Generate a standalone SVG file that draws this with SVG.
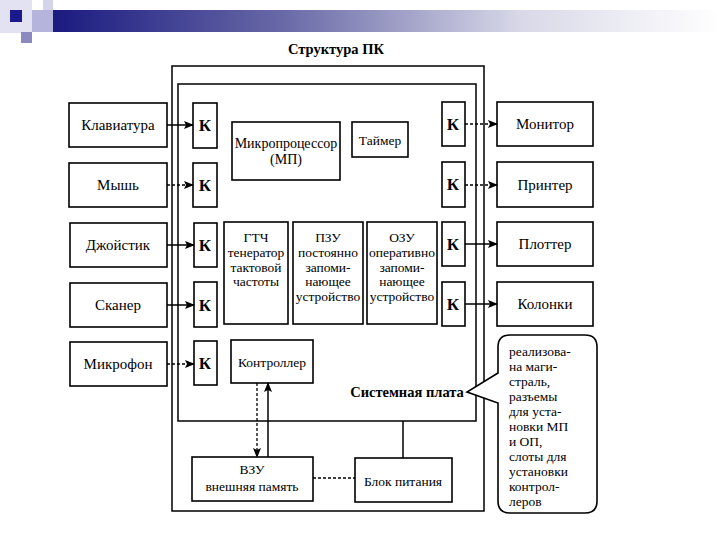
<svg xmlns="http://www.w3.org/2000/svg" width="720" height="540" viewBox="0 0 720 540">
<defs>
<linearGradient id="bar" x1="0" y1="0" x2="1" y2="0">
<stop offset="0" stop-color="#1a1a80"/>
<stop offset="0.35" stop-color="#6a6aa8"/>
<stop offset="0.7" stop-color="#d8d8e8"/>
<stop offset="1" stop-color="#ffffff"/>
</linearGradient>
<marker id="ah" markerWidth="10" markerHeight="8" refX="9" refY="4" orient="auto" markerUnits="userSpaceOnUse">
<path d="M0,0 L10,4 L0,8 L2,4 Z" fill="#000"/>
</marker>
<style>
.b{fill:#fff;stroke:#000;stroke-width:1.6}
.f{fill:none;stroke:#000;stroke-width:1.5}
.t{font-family:"Liberation Serif","Times New Roman",serif;font-size:15px;fill:#000;text-anchor:middle}
.s{font-family:"Liberation Serif","Times New Roman",serif;font-size:13.5px;fill:#000;text-anchor:middle}
.k{font-family:"Liberation Serif","Times New Roman",serif;font-size:17px;font-weight:bold;fill:#000;text-anchor:middle}
.c{font-family:"Liberation Serif","Times New Roman",serif;font-size:13.5px;fill:#000}
.w{font-family:"Liberation Serif","Times New Roman",serif;font-size:14.5px;font-weight:bold;fill:#000;text-anchor:middle}
.l{stroke:#000;stroke-width:1.5;fill:none}
.d{stroke:#000;stroke-width:1.3;fill:none;stroke-dasharray:3,2}
</style>
</defs>
<rect width="720" height="540" fill="#fff"/>
<g id="header">
<rect x="0" y="0" width="32" height="33" fill="#e2e2f2"/>
<rect x="53" y="10" width="667" height="22" fill="url(#bar)"/>
<rect x="32" y="10" width="21" height="22" fill="#b4b4dc"/>
<rect x="43" y="0" width="10" height="10" fill="#d4d4ea"/>
<rect x="10" y="10" width="12" height="12" fill="#1a1a8c"/>
<rect x="21" y="32" width="11" height="11" fill="#8a8ac0"/>
</g>
<text class="w" x="336" y="54">Структура ПК</text>
<g id="case"><rect class="f" x="172" y="66" width="312" height="445"/></g>
<g id="board"><rect class="f" x="178" y="84" width="298" height="337"/>
<text class="w" x="407" y="397">Системная плата</text></g>
<g id="keyboard"><rect class="b" x="69" y="103" width="98" height="44"/><text class="t" x="118" y="130">Клавиатура</text></g>
<g id="mouse"><rect class="b" x="69" y="163" width="98" height="44"/><text class="t" x="118" y="190">Мышь</text></g>
<g id="joystick"><rect class="b" x="70" y="223" width="97" height="44"/><text class="t" x="118" y="250">Джойстик</text></g>
<g id="scanner"><rect class="b" x="70" y="283" width="97" height="44"/><text class="t" x="118" y="310">Сканер</text></g>
<g id="microphone"><rect class="b" x="70" y="342" width="97" height="44"/><text class="t" x="118" y="369">Микрофон</text></g>
<g id="k1"><rect class="b" x="193" y="103" width="24" height="45"/><text class="k" x="205" y="131">К</text></g>
<g id="k2"><rect class="b" x="193" y="163" width="24" height="44"/><text class="k" x="205" y="191">К</text></g>
<g id="k3"><rect class="b" x="194" y="223" width="23" height="44"/><text class="k" x="205" y="251">К</text></g>
<g id="k4"><rect class="b" x="194" y="282" width="23" height="45"/><text class="k" x="205" y="311">К</text></g>
<g id="k5"><rect class="b" x="194" y="341" width="23" height="44"/><text class="k" x="205" y="369">К</text></g>
<g id="cpu"><rect class="b" x="232" y="122" width="108" height="58"/><text class="s" x="286" y="148" style="font-size:14px">Микропроцессор</text><text class="s" x="286" y="164" style="font-size:14px">(МП)</text></g>
<g id="timer"><rect class="b" x="352" y="122" width="56" height="35"/><text class="s" x="380" y="145">Таймер</text></g>
<g id="gtch"><rect class="b" x="224" y="222" width="64" height="102"/>
<text class="s" x="256" y="242">ГТЧ</text><text class="s" x="256" y="257">тенератор</text><text class="s" x="256" y="272">тактовой</text><text class="s" x="256" y="286">частоты</text></g>
<g id="rom"><rect class="b" x="293" y="222" width="70" height="102"/>
<text class="s" x="328" y="242">ПЗУ</text><text class="s" x="328" y="257">постоянно</text><text class="s" x="328" y="272">запоми-</text><text class="s" x="328" y="286">нающее</text><text class="s" x="328" y="301">устройство</text></g>
<g id="ram"><rect class="b" x="367" y="222" width="70" height="102"/>
<text class="s" x="402" y="242">ОЗУ</text><text class="s" x="402" y="257">оперативно</text><text class="s" x="402" y="272">запоми-</text><text class="s" x="402" y="286">нающее</text><text class="s" x="402" y="301">устройство</text></g>
<g id="controller"><rect class="b" x="231" y="340" width="82" height="43"/><text class="s" x="272" y="367">Контроллер</text></g>
<g id="k6"><rect class="b" x="442" y="102" width="23" height="44"/><text class="k" x="453" y="130">К</text></g>
<g id="k7"><rect class="b" x="442" y="162" width="23" height="45"/><text class="k" x="453" y="190">К</text></g>
<g id="k8"><rect class="b" x="442" y="222" width="23" height="44"/><text class="k" x="453" y="250">К</text></g>
<g id="k9"><rect class="b" x="442" y="282" width="23" height="44"/><text class="k" x="453" y="310">К</text></g>
<g id="monitor"><rect class="b" x="497" y="102" width="96" height="44"/><text class="t" x="545" y="129">Монитор</text></g>
<g id="printer"><rect class="b" x="497" y="162" width="96" height="45"/><text class="t" x="545" y="190">Принтер</text></g>
<g id="plotter"><rect class="b" x="497" y="222" width="96" height="44"/><text class="t" x="545" y="249">Плоттер</text></g>
<g id="speakers"><rect class="b" x="497" y="282" width="96" height="44"/><text class="t" x="545" y="309">Колонки</text></g>
<g id="vzu"><rect class="b" x="192" y="457" width="121" height="44"/><text class="s" x="252" y="474">ВЗУ</text><text class="s" x="252" y="491">внешняя память</text></g>
<g id="psu"><rect class="b" x="355" y="458" width="97" height="44"/><text class="s" x="403" y="486">Блок питания</text></g>
<g id="callout">
<path class="b" d="M510,335 H585 Q597,335 597,347 V501 Q597,513 585,513 H510 Q498,513 498,501 V403 L467,392 L498,373 V347 Q498,335 510,335 Z"/>
<text class="c" x="509" y="356">реализова-</text>
<text class="c" x="509" y="371">на маги-</text>
<text class="c" x="509" y="386">страль,</text>
<text class="c" x="509" y="401">разъемы</text>
<text class="c" x="509" y="416">для уста-</text>
<text class="c" x="509" y="431">новки МП</text>
<text class="c" x="509" y="446">и ОП,</text>
<text class="c" x="509" y="461">слоты для</text>
<text class="c" x="509" y="476">установки</text>
<text class="c" x="509" y="491">контрол-</text>
<text class="c" x="509" y="506">леров</text>
</g>
<g id="connectors">
<line class="l" x1="167" y1="125" x2="193" y2="125" marker-end="url(#ah)"/>
<line class="d" x1="167" y1="185" x2="193" y2="185" marker-end="url(#ah)"/>
<line class="l" x1="167" y1="245" x2="194" y2="245" marker-end="url(#ah)"/>
<line class="l" x1="167" y1="305" x2="194" y2="305" marker-end="url(#ah)"/>
<line class="d" x1="167" y1="364" x2="194" y2="364" marker-end="url(#ah)"/>
<line class="d" x1="465" y1="124" x2="497" y2="124" marker-end="url(#ah)"/>
<line class="d" x1="465" y1="185" x2="497" y2="185" marker-end="url(#ah)"/>
<line class="l" x1="465" y1="244" x2="497" y2="244" marker-end="url(#ah)"/>
<line class="l" x1="465" y1="304" x2="497" y2="304" marker-end="url(#ah)"/>
<line class="d" x1="257" y1="383" x2="257" y2="457" marker-end="url(#ah)"/>
<line class="l" x1="268" y1="457" x2="268" y2="383" marker-end="url(#ah)"/>
<line class="l" x1="403" y1="421" x2="403" y2="458"/>
<line class="d" x1="313" y1="478" x2="355" y2="478"/>
</g>
</svg>
